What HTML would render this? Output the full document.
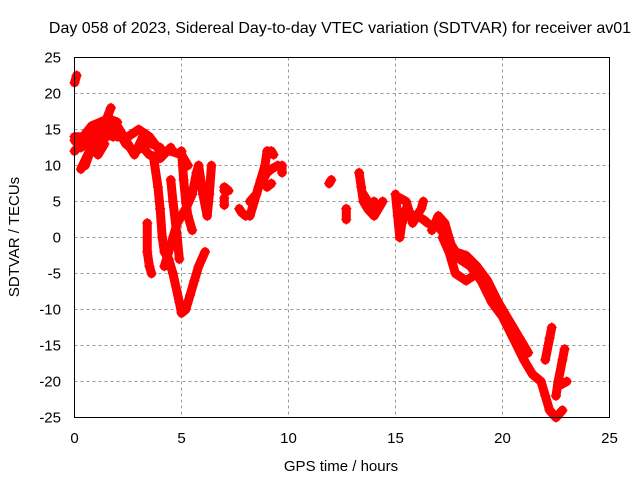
<!DOCTYPE html>
<html><head><meta charset="utf-8"><style>
body{margin:0;background:#fff;}
svg{display:block;font-family:"Liberation Sans",sans-serif;}
</style></head><body>
<svg id="chart" width="640" height="480" viewBox="0 0 640 480">
<rect width="640" height="480" fill="#fff"/>
<text x="340" y="33" font-size="16" text-anchor="middle" fill="#000">Day 058 of 2023, Sidereal Day-to-day VTEC variation (SDTVAR) for receiver av01</text>
<text x="341" y="471" font-size="15" text-anchor="middle">GPS time / hours</text>
<text transform="translate(19,237) rotate(-90)" font-size="15" text-anchor="middle">SDTVAR / TECUs</text>
<g id="grid"></g>
<g id="ticks"></g>
<g id="marks"></g>
<rect x="74.5" y="57.5" width="535" height="360" fill="none" stroke="#000" stroke-width="1"/>
</svg>
<script>
const xTicks=[0,5,10,15,20,25];
const yTicks=[25,20,15,10,5,0,-5,-10,-15,-20,-25];
const tracks=[
[[0,21.5],[0.1,22.5]],
[[0,12],[0.3,13],[0.5,14],[1,15],[1.5,16],[2,14],[2.5,14],[3,15],[3.5,14],[4,12],[4.5,12],[5,11.5],[5.3,10]],
[[0,13.5],[0.3,12.5],[0.6,13.5],[1,13],[1.4,14.5],[1.8,14]],
[[0,14],[0.4,14],[0.8,15.5],[1.2,16],[1.6,16.5],[2,16]],
[[0.3,9.5],[0.7,12],[1,14],[1.3,15],[1.7,18]],
[[0.5,10],[0.8,12.5],[1.1,11.5],[1.4,13]],
[[1.5,14],[2,15],[2.4,13],[2.8,12],[3.2,12.5],[3.5,11.5],[4,11],[4.5,12.5]],
[[2,15.5],[2.5,13],[2.8,11.5],[3.2,14],[3.6,13],[4,12.5]],
[[3.7,11],[3.9,7],[4,4],[4.1,0],[4.2,-2],[4.4,-3],[4.6,-5],[4.9,-9],[5,-10.5],[5.2,-10],[5.4,-8],[5.6,-6],[5.8,-4],[6.1,-2]],
[[3.4,2],[3.4,-2],[3.5,-4],[3.6,-5]],
[[4.2,-4],[4.5,-1],[4.8,2],[5.2,4],[5.5,6],[5.7,9],[5.8,10]],
[[5.8,10],[6,6],[6.2,3],[6.3,6],[6.4,10]],
[[4.5,8],[4.6,5],[4.8,0],[4.9,-3]],
[[5,12],[5.1,8],[5.2,5],[5.3,3],[5.5,1]],
[[7,6.5],[7,7],[7.2,6.5]],
[[7,4.5],[7,5.5]],
[[7.7,4],[7.8,3.5],[8,3]],
[[8.2,3],[8.4,5],[8.6,7],[8.8,8],[9,9],[9.2,9.5],[9.5,10]],
[[8.2,5],[8.5,6],[8.7,8],[8.9,10],[9,12],[9.2,12],[9.3,11.5]],
[[9,7],[9.2,7.5]],
[[9.7,9],[9.7,10]],
[[11.9,7.5],[12,8]],
[[12.7,4],[12.7,2.5]],
[[13.3,9],[13.4,7],[13.5,5],[13.7,4],[14,3],[14.2,4],[14.4,5]],
[[13.5,6],[13.8,4.5],[14,5]],
[[15,6],[15.1,3],[15.2,0],[15.3,2],[15.5,4],[15.8,3],[16,3],[16.3,2.5],[16.5,2]],
[[15.2,5.5],[15.5,5],[15.8,2],[16.1,3.5]],
[[16.2,4],[16.3,5]],
[[16.7,1],[17,3],[17.3,2],[17.6,-1],[18,-3],[18.5,-4],[19,-6],[19.5,-9],[20,-11],[20.5,-14],[21,-17],[21.4,-19],[21.8,-20],[22,-22],[22.2,-24],[22.5,-25],[22.8,-24]],
[[17,1.5],[17.4,0],[17.8,-2],[18.3,-2.5],[18.8,-4],[19.3,-6],[19.8,-9],[20.3,-11.5],[20.8,-14],[21.2,-16]],
[[17.2,0],[17.5,-2],[17.8,-5],[18.3,-6],[18.8,-5],[19.3,-7],[19.8,-10],[20.3,-12]],
[[22,-17],[22.2,-14],[22.3,-12.5]],
[[22.5,-22],[22.6,-20],[22.8,-17],[22.9,-15.5]],
[[22.7,-20.5],[23,-20]]
];
const NS="http://www.w3.org/2000/svg";
const X0=74.5,X1=609.5,Y0=57.5,Y1=417.5;
function xs(v){return X0+(v-0)/25*(X1-X0);}
function ys(v){return Y0+(25-v)/50*(Y1-Y0);}
function mk(tag,at,parent){const e=document.createElementNS(NS,tag);for(const k in at)e.setAttribute(k,at[k]);parent.appendChild(e);return e;}
const grid=document.getElementById('grid'),ticks=document.getElementById('ticks'),marks=document.getElementById('marks');
xTicks.forEach(t=>{
  const x=xs(t);
  if(t>0&&t<25){const g=mk('line',{x1:x,x2:x,y1:Y0,y2:Y1,stroke:'#999','stroke-dasharray':'3,3'},grid);
  
  }
  const l=mk('text',{x:x,y:443,'font-size':15,'text-anchor':'middle'},ticks);l.textContent=t;
  
  
});
yTicks.forEach(t=>{
  const y=ys(t);
  if(t<25&&t>-25){const g=mk('line',{x1:X0,x2:X1,y1:y,y2:y,stroke:'#999','stroke-dasharray':'3,3'},grid);
  
  }
  const l=mk('text',{x:61,y:y+5,'font-size':15,'text-anchor':'end'},ticks);l.textContent=t;
  
  
});
tracks.forEach(tr=>{
  const pl=mk('polyline',{points:tr.map(p=>xs(p[0])+','+ys(p[1])).join(' '),fill:'none',stroke:'#f00','stroke-width':9,'stroke-linejoin':'round','stroke-linecap':'round'},marks);
  
  
  tr.forEach(p=>{
    const x=xs(p[0]),y=ys(p[1]);
    const m=mk('path',{d:`M${x-5},${y}H${x+5}M${x},${y-5}V${y+5}`,stroke:'#f00','stroke-width':1.3},marks);
    
    
  });
});
</script>
</body></html>
